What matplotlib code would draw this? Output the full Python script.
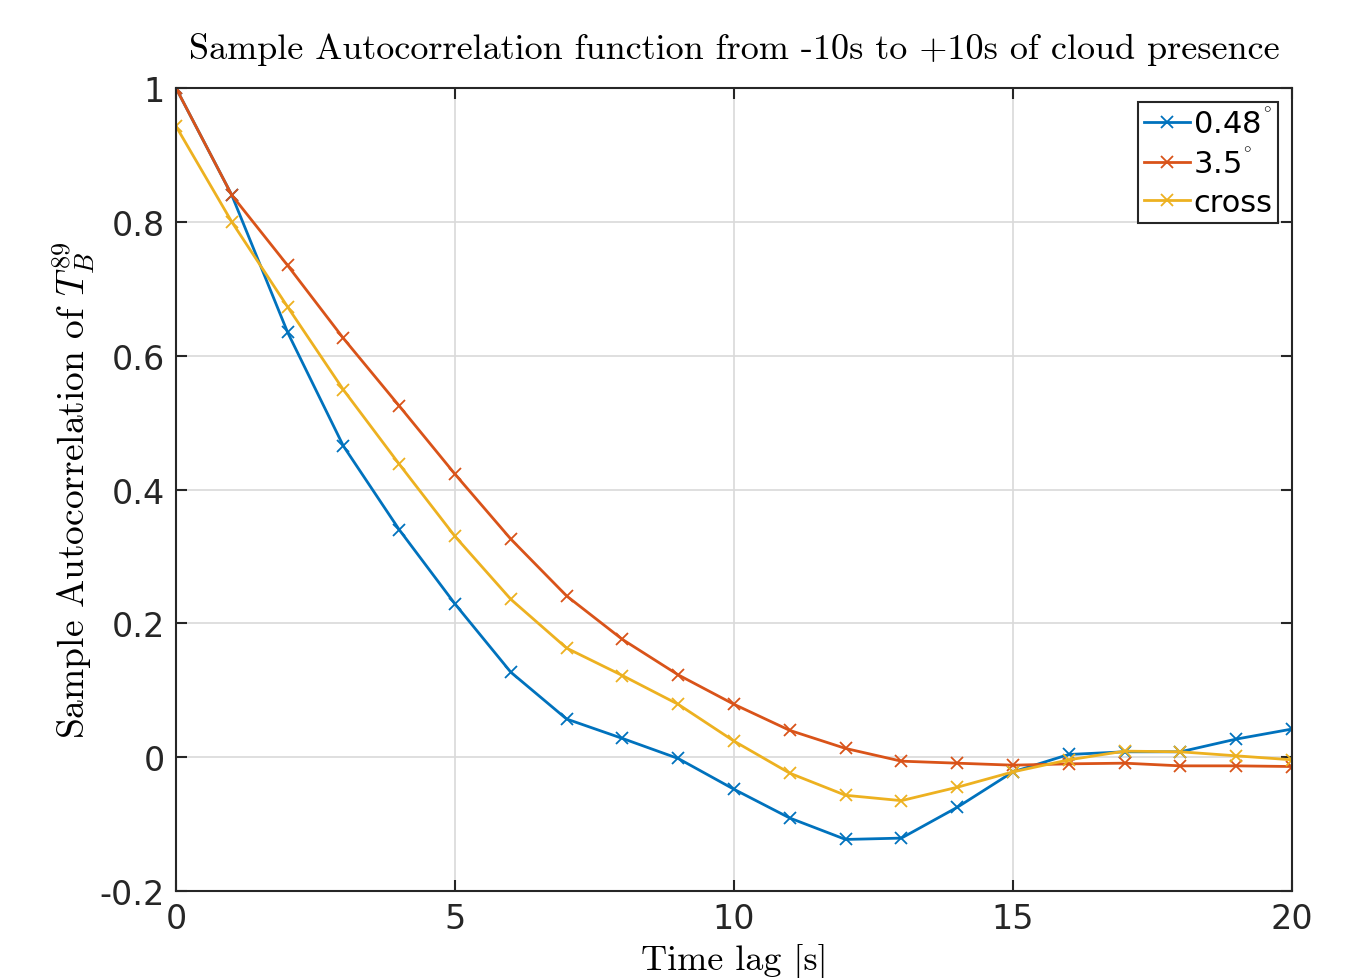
import numpy as np
import matplotlib.pyplot as plt

plt.rcParams['mathtext.fontset'] = 'cm'
plt.rcParams['axes.unicode_minus'] = False

# lag in seconds
lags = np.arange(0, 21)

# sample autocorrelation
acf_048 = [1.0, 0.84, 0.635, 0.465, 0.34, 0.229, 0.127, 0.057, 0.028, -0.002, -0.048,
           -0.091, -0.123, -0.121, -0.075, -0.022, 0.004, 0.008, 0.008, 0.027, 0.042]
acf_35 = [1.0, 0.84, 0.735, 0.626, 0.525, 0.423, 0.326, 0.241, 0.176, 0.123, 0.079,
          0.040, 0.013, -0.006, -0.009, -0.012, -0.010, -0.009, -0.013, -0.013, -0.014]
acf_cross = [0.943, 0.80, 0.673, 0.549, 0.438, 0.330, 0.236, 0.163, 0.122, 0.079, 0.024,
             -0.024, -0.057, -0.065, -0.045, -0.022, -0.004, 0.009, 0.008, 0.002, -0.004]

labels = [r'0.48$^{^{\circ}}$', r'3.5$^{^{\circ}}$', 'cross']
colors = ['#0072BD', '#D95319', '#EDB120']

xticks = [0, 5, 10, 15, 20]
yticks = [-0.2, 0, 0.2, 0.4, 0.6, 0.8, 1]
ytick_labels = ['-0.2', '0', '0.2', '0.4', '0.6', '0.8', '1']

fig = plt.figure(figsize=(13.58, 9.79), dpi=100)
ax = fig.add_axes([0.1296, 0.0889, 0.8218, 0.8201])

for y, lab, c in zip([acf_048, acf_35, acf_cross], labels, colors):
    ax.plot(lags, y, color=c, lw=2, marker='x', ms=9, mew=1.3, label=lab)

ax.set_xlim(0, 20)
ax.set_ylim(-0.2, 1)
ax.set_xticks(xticks)
ax.set_yticks(yticks)
ax.set_yticklabels(ytick_labels)
ax.tick_params(direction='in', length=8, width=1.5, labelsize=24, top=True, right=True,
               colors='#262626', pad=8)
ax.grid(True, color='#d9d9d9', lw=1.2)
ax.set_axisbelow(True)
for s in ax.spines.values():
    s.set_color('#262626')
    s.set_linewidth(1.5)

ax.set_title('Sample Autocorrelation function from -10s to +10s of cloud presence',
             family='cmr10', fontsize=26, pad=22)
ax.set_xlabel('Time lag [s]', family='cmr10', fontsize=26, labelpad=6)
ax.set_ylabel(r'Sample Autocorrelation of $T_B^{89}$', family='cmr10', fontsize=27, labelpad=2)

leg = ax.legend(loc='upper right', fontsize=22, fancybox=False, edgecolor='#262626',
                framealpha=1, handlelength=1.5, handletextpad=0.1, borderpad=0.2,
                labelspacing=0.3, borderaxespad=0.45)
leg.get_frame().set_linewidth(1.5)

fig.savefig('out.png', dpi=100)
